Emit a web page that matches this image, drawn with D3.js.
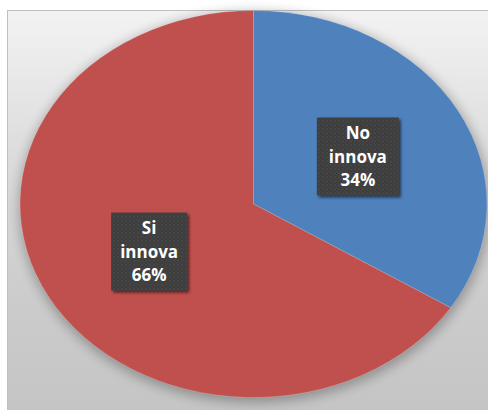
<!DOCTYPE html>
<html>
<head>
<meta charset="utf-8">
<script src="https://cdn.jsdelivr.net/npm/d3@7/dist/d3.min.js"></script>
<style>
  html, body { margin: 0; padding: 0; background: #ffffff; }
  svg { display: block; }
</style>
</head>
<body>
<svg id="chart" width="488" height="410"></svg>
<script>
// Innovation share data
const categories = ["No innova", "Si innova"];
const values = [34, 66];
const labelLines = [["No", "innova", "34%"], ["Si", "innova", "66%"]];
const colors = ["#4f81bd", "#c0504d"];

const W = 488, H = 410;
const svg = d3.select("#chart");
const defs = svg.append("defs");

// chart area background gradient
const bg = defs.append("linearGradient").attr("id", "bgGrad")
  .attr("x1", 0).attr("y1", 0).attr("x2", 0).attr("y2", 1);
bg.append("stop").attr("offset", "0%").attr("stop-color", "#f3f3f3");
bg.append("stop").attr("offset", "35%").attr("stop-color", "#dcdcdc");
bg.append("stop").attr("offset", "70%").attr("stop-color", "#cccccc");
bg.append("stop").attr("offset", "100%").attr("stop-color", "#c4c4c4");

// soft halo around the pie
defs.append("filter").attr("id", "halo")
  .attr("x", "-20%").attr("y", "-20%").attr("width", "140%").attr("height", "140%")
  .append("feGaussianBlur").attr("stdDeviation", 6);

// textured fill for label boxes
const pat = defs.append("pattern").attr("id", "boxTex")
  .attr("patternUnits", "userSpaceOnUse").attr("width", 4).attr("height", 4);
pat.append("rect").attr("width", 4).attr("height", 4).attr("fill", "#3b3b3b");
pat.append("rect").attr("x", 0).attr("y", 0).attr("width", 2).attr("height", 2).attr("fill", "#484848");
pat.append("rect").attr("x", 2).attr("y", 2).attr("width", 2).attr("height", 2).attr("fill", "#434343");

// label box drop shadow
const sh = defs.append("filter").attr("id", "boxShadow")
  .attr("x", "-20%").attr("y", "-20%").attr("width", "150%").attr("height", "150%");
sh.append("feGaussianBlur").attr("in", "SourceAlpha").attr("stdDeviation", 1.5).attr("result", "b");
sh.append("feOffset").attr("in", "b").attr("dx", 2).attr("dy", 2).attr("result", "o");
sh.append("feComponentTransfer").attr("in", "o").attr("result", "s")
  .append("feFuncA").attr("type", "linear").attr("slope", 0.6);
const mg = sh.append("feMerge");
mg.append("feMergeNode").attr("in", "s");
mg.append("feMergeNode").attr("in", "SourceGraphic");

// chart frame
svg.append("rect")
  .attr("x", 7.5).attr("y", 10.5).attr("width", W).attr("height", H)
  .attr("fill", "url(#bgGrad)").attr("stroke", "#bfbfbf").attr("stroke-width", 1);

// pie geometry: a circle stretched into the plot ellipse
const cx = 253.5, cy = 204, rx = 233.5, ry = 193.5;
const R = 100;

const pie = d3.pie().sort(null).value(d => d);
const arcs = pie(values);
const arc = d3.arc().innerRadius(0).outerRadius(R);
const labelArc = d3.arc().innerRadius(R * 0.51).outerRadius(R * 0.51);

const sx = d3.scaleLinear().domain([-R, R]).range([cx - rx, cx + rx]);
const sy = d3.scaleLinear().domain([-R, R]).range([cy - ry, cy + ry]);

// halo behind the pie
svg.append("ellipse")
  .attr("cx", cx + 1).attr("cy", cy + 3).attr("rx", rx + 2).attr("ry", ry + 2)
  .attr("fill", "#000").attr("opacity", 0.28).attr("filter", "url(#halo)");

const pieG = svg.append("g")
  .attr("transform", `translate(${cx},${cy}) scale(${rx / R},${ry / R})`);
pieG.selectAll("path.slice")
  .data(arcs)
  .join("path")
  .attr("class", "slice")
  .attr("d", arc)
  .attr("fill", (d, i) => colors[i])
  .attr("stroke", "rgba(255,255,255,0.35)")
  .attr("stroke-width", 0.25);

// data labels
const boxW = [82, 76], boxH = 78, lineH = 23.5;
const labels = svg.selectAll("g.lbl")
  .data(arcs)
  .join("g")
  .attr("class", "lbl")
  .attr("transform", d => {
    const [x, y] = labelArc.centroid(d);
    return `translate(${sx(x)},${sy(y)})`;
  });

labels.append("rect")
  .attr("x", (d, i) => -boxW[i] / 2).attr("y", -boxH / 2)
  .attr("width", (d, i) => boxW[i]).attr("height", boxH)
  .attr("fill", "url(#boxTex)")
  .attr("filter", "url(#boxShadow)");

labels.each(function (d, i) {
  const g = d3.select(this);
  const lines = labelLines[i];
  lines.forEach((t, k) => {
    g.append("text")
      .attr("x", 0)
      .attr("y", (k - (lines.length - 1) / 2) * lineH)
      .attr("dy", "0.36em")
      .attr("text-anchor", "middle")
      .attr("fill", "#ffffff")
      .attr("font-family", "'Open Sans', 'DejaVu Sans', sans-serif")
      .attr("font-weight", "bold")
      .attr("font-size", "17px")
      .text(t);
  });
});
</script>
</body>
</html>
